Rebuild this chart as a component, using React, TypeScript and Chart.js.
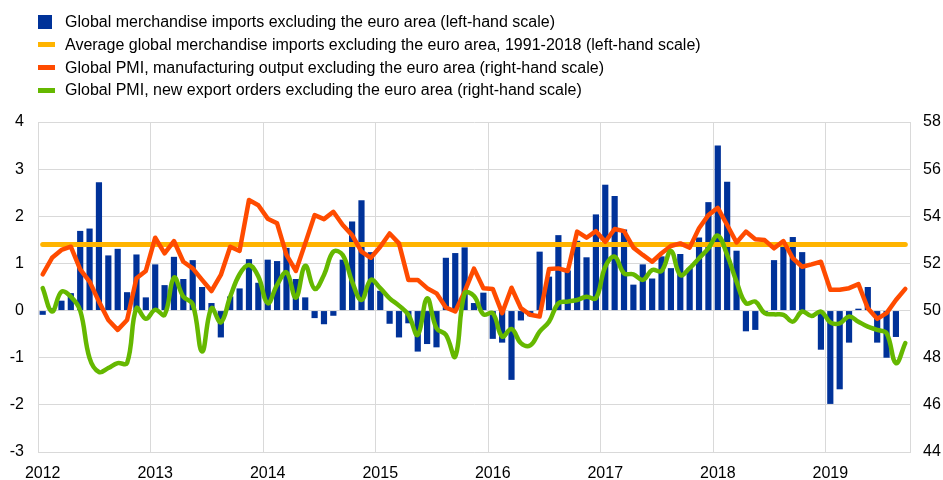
import React, { useEffect, useRef } from "react";
import { Chart, registerables } from "chart.js";

Chart.register(...registerables);

const years = ["2012", "2013", "2014", "2015", "2016", "2017", "2018", "2019"];
const monthCount = 93; // Jan 2012 - Sep 2019
const months: string[] = [];
for (const y of years) {
  for (let m = 1; m <= 12; m++) months.push(`${y}-${String(m).padStart(2, "0")}`);
}
const categories = months.slice(0, monthCount);

const imports: (number | null)[] = [
  -0.09, 0.05, 0.21, 0.37, 1.69, 1.74, 2.72, 1.17, 1.31, 0.39, 1.19, 0.28,
  0.98, 0.54, 1.14, 0.67, 1.07, 0.5, 0.16, -0.57, 0.3, 0.47, 1.09, 0.59,
  1.08, 1.05, 1.33, 0.67, 0.28, -0.16, -0.29, -0.11, 1.08, 1.89, 2.34, 1.24,
  0.42, -0.28, -0.57, -0.27, -0.87, -0.71, -0.78, 1.12, 1.22, 1.34, 0.16, 0.38,
  -0.6, -0.68, -1.47, -0.21, -0.12, 1.25, 0.72, 1.6, 0.85, 1.48, 1.13, 2.04,
  2.67, 2.43, 1.72, 0.55, 0.98, 0.68, 1.15, 0.9, 1.2, 0.9, 1.55, 2.3,
  3.5, 2.73, 1.27, -0.44, -0.41, -0.03, 1.07, 1.37, 1.56, 1.24, 0.01, -0.83,
  -1.98, -1.67, -0.68, 0.04, 0.5, -0.68, -1.0, -0.56, null,
];

const averageImports = 1.4; // 1991-2018 average
const averageLine: number[] = categories.map(() => averageImports);

const pmiOutput: number[] = [
  51.54, 52.24, 52.57, 52.71, 51.75, 51.23, 50.38, 49.6, 49.18, 49.6, 51.37, 51.68,
  53.09, 52.43, 52.95, 52.07, 51.79, 51.3, 50.83, 51.51, 52.71, 52.53, 54.69, 54.47,
  53.9, 53.7, 52.36, 51.68, 52.85, 54.05, 53.88, 54.19, 53.63, 53.2, 52.5, 52.24,
  52.71, 53.27, 52.85, 51.3, 51.3, 50.95, 50.73, 50.13, 49.96, 50.8, 51.78, 50.95,
  50.92, 49.89, 50.97, 50.1, 49.82, 49.75, 51.76, 51.79, 51.68, 53.35, 53.09, 53.37,
  52.92, 53.46, 53.37, 52.67, 52.36, 52.07, 52.43, 52.74, 52.85, 52.67, 53.49, 54.05,
  54.36, 53.63, 52.89, 53.35, 53.03, 52.99, 52.64, 52.95, 52.22, 51.86, 51.96, 52.07,
  50.88, 50.88, 50.95, 51.12, 50.1, 49.65, 49.89, 50.45, 50.92,
];

const pmiExportOrders: number[] = [
  50.95, 49.96, 50.8, 50.59, 50.0, 47.98, 47.39, 47.56, 47.77, 47.77, 50.1, 49.65,
  50.03, 49.82, 51.4, 50.59, 50.27, 48.26, 50.1, 49.5, 50.59, 51.54, 51.93, 51.45,
  50.31, 51.09, 51.62, 50.55, 51.9, 50.92, 51.51, 52.5, 52.36, 51.23, 50.45, 51.3,
  50.95, 50.52, 50.21, 49.82, 48.97, 50.52, 49.25, 48.97, 48.05, 50.73, 50.62, 49.84,
  49.89, 48.9, 49.22, 48.62, 48.52, 49.11, 49.53, 50.31, 50.38, 50.45, 50.59, 50.52,
  51.86, 52.29, 51.58, 51.54, 51.3, 51.72, 51.68, 52.53, 51.51, 51.8, 52.22, 52.64,
  53.18, 52.36, 51.23, 50.31, 50.38, 49.89, 49.84, 49.82, 49.53, 49.96, 49.77, 49.96,
  49.5, 49.46, 49.75, 49.53, 49.32, 49.18, 49.04, 47.77, 48.62,
];

const legendItems = [
  { label: "Global merchandise imports excluding the euro area (left-hand scale)", color: "#003299", kind: "box" },
  { label: "Average global merchandise imports excluding the euro area, 1991-2018 (left-hand scale)", color: "#FFB400", kind: "line" },
  { label: "Global PMI, manufacturing output excluding the euro area (right-hand scale)", color: "#FF4B00", kind: "line" },
  { label: "Global PMI, new export orders excluding the euro area (right-hand scale)", color: "#65B800", kind: "line" },
];

const FONT = "'Liberation Sans', Arial, sans-serif";
const GRID = "#d9d9d9";

export default function App() {
  const canvasRef = useRef<HTMLCanvasElement | null>(null);

  useEffect(() => {
    document.body.style.margin = "0";
    const canvas = canvasRef.current;
    if (!canvas) return;
    const chart = new Chart(canvas, {
      type: "bar",
      data: {
        labels: categories,
        datasets: [
          {
            type: "line",
            label: legendItems[3].label,
            data: pmiExportOrders,
            yAxisID: "y1",
            borderColor: "#65B800",
            borderWidth: 4.5,
            pointRadius: 0,
            tension: 0.4,
            borderCapStyle: "round",
            borderJoinStyle: "round",
            order: 0,
          },
          {
            type: "line",
            label: legendItems[2].label,
            data: pmiOutput,
            yAxisID: "y1",
            borderColor: "#FF4B00",
            borderWidth: 4.5,
            pointRadius: 0,
            tension: 0,
            borderCapStyle: "round",
            borderJoinStyle: "round",
            order: 1,
          },
          {
            type: "line",
            label: legendItems[1].label,
            data: averageLine,
            yAxisID: "y",
            borderColor: "#FFB400",
            borderWidth: 5,
            pointRadius: 0,
            borderCapStyle: "round",
            order: 2,
          },
          {
            type: "bar",
            label: legendItems[0].label,
            data: imports,
            yAxisID: "y",
            backgroundColor: "#003299",
            categoryPercentage: 1,
            barPercentage: 0.66,
            order: 3,
          },
        ],
      },
      options: {
        responsive: false,
        animation: false,
        layout: { padding: { top: 122, left: 0, right: 0, bottom: 0 } },
        plugins: { legend: { display: false }, tooltip: { enabled: false } },
        scales: {
          x: {
            type: "category",
            offset: true,
            grid: {
              offset: true,
              drawTicks: false,
              lineWidth: 1,
              color: (ctx: any) => (ctx.index % 12 === 0 ? GRID : "rgba(0,0,0,0)"),
            },
            border: { display: true, color: GRID },
            ticks: {
              autoSkip: false,
              maxRotation: 0,
              minRotation: 0,
              padding: 12,
              color: "#000",
              font: { family: FONT, size: 16 },
              callback: (_v: any, i: number) => (i % 12 === 0 ? categories[i].slice(0, 4) : ""),
            },
            afterFit: (s: any) => {
              s.height = 28;
            },
          },
          y: {
            position: "left",
            min: -3,
            max: 4,
            grid: { color: GRID, drawTicks: false, lineWidth: 1 },
            border: { display: true, color: GRID },
            ticks: {
              stepSize: 1,
              padding: 14,
              color: "#000",
              font: { family: FONT, size: 16 },
            },
            afterFit: (s: any) => {
              s.width = 38;
            },
          },
          y1: {
            position: "right",
            min: 44,
            max: 58,
            grid: { display: false, drawTicks: false },
            border: { display: true, color: GRID },
            ticks: {
              stepSize: 2,
              padding: 13,
              color: "#000",
              font: { family: FONT, size: 16 },
            },
            afterFit: (s: any) => {
              s.width = 33;
            },
          },
        },
      },
    } as any);
    return () => chart.destroy();
  }, []);

  const rowCenters = [22, 44.5, 67.5, 90];

  return (
    <div style={{ position: "relative", width: 943, height: 480, background: "#fff" }}>
      <canvas ref={canvasRef} width={943} height={480} style={{ position: "absolute", left: 0, top: 0 }} />
      {legendItems.map((item, i) => (
        <div
          key={i}
          style={{
            position: "absolute",
            left: 38,
            top: rowCenters[i] - 11,
            height: 22,
            display: "flex",
            alignItems: "center",
            fontFamily: FONT,
            fontSize: 16,
            color: "#000",
            whiteSpace: "nowrap",
          }}
        >
          <span
            style={{
              display: "inline-block",
              width: item.kind === "box" ? 14 : 17,
              height: item.kind === "box" ? 14 : 5,
              background: item.color,
              marginRight: item.kind === "box" ? 13 : 10,
            }}
          />
          <span>{item.label}</span>
        </div>
      ))}
    </div>
  );
}
